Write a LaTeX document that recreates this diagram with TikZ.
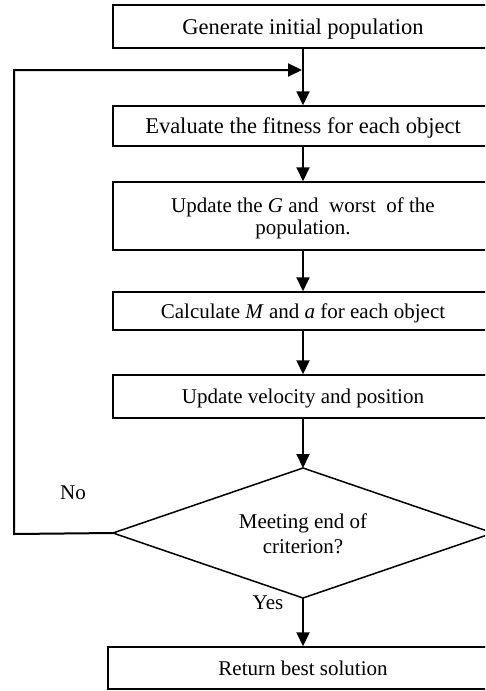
\documentclass[tikz,border=0pt]{standalone}
\usepackage{fontspec}
\setmainfont{Liberation Serif}
\usetikzlibrary{arrows.meta}
\tikzset{
  box/.style={draw, line width=1.5pt, minimum width=380pt, inner sep=0pt, align=center, text depth=0pt, font=\fontsize{21}{22}\selectfont},
  conn/.style={line width=2pt, -{Triangle[width=13pt,length=14pt]}},
  lbl/.style={font=\fontsize{21}{23}\selectfont, inner sep=0pt}
}
\begin{document}
\begin{tikzpicture}[x=1pt,y=-1pt]
\useasboundingbox (0,0) rectangle (485,691);
\clip (0,0) rectangle (485,691);
\node[box, minimum height=43pt, font=\fontsize{22.5}{24}\selectfont] (b1) at (303,26.5) {Generate initial population};
\node[box, minimum height=40pt, font=\fontsize{22.5}{24}\selectfont] (b2) at (303,126) {Evaluate the fitness for each object};
\node[box, minimum height=68pt] (b3) at (303,216) {Update the \textit{G} and \ worst \ of the\\population.};
\node[box, minimum height=38pt] (b4) at (303,311) {Calculate \textit{M} and \textit{a} for each object};
\node[box, minimum height=43pt] (b5) at (303,396.5) {Update velocity and position};
% decision diamond
\coordinate (dT) at (303,468);
\coordinate (dR) at (493,533);
\coordinate (dB) at (303,598);
\coordinate (dL) at (113,533);
\draw[line width=1.5pt, line join=miter] (dT) -- (dR) -- (dB) -- (dL) -- cycle;
\node[align=center, inner sep=0pt, font=\fontsize{21}{25}\selectfont] (d) at (303,534) {Meeting end of\\criterion?};
\node[box, minimum width=390pt, minimum height=42pt] (b6) at (303,668) {Return best solution};
\coordinate (L1) at (14,534);
\coordinate (L2) at (14,70);
\coordinate (J) at (302,70);
\draw[conn] (b1.south) -- (b2.north);
\draw[conn] (b2.south) -- (b3.north);
\draw[conn] (b3.south) -- (b4.north);
\draw[conn] (b4.south) -- (b5.north);
\draw[conn] (b5.south) -- (dT);
\draw[conn] (dB) -- (b6.north);
\draw[conn] (dL) -- (L1) -- (L2) -- (J);
\node[lbl] (no) at (73,493) {No};
\node[lbl] (yes) at (268,603) {Yes};
\end{tikzpicture}
\end{document}
